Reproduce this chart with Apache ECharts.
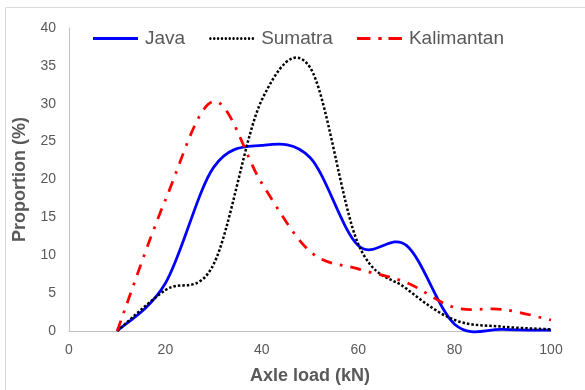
<!DOCTYPE html>
<html>
<head>
<meta charset="utf-8">
<script src="https://cdn.jsdelivr.net/npm/echarts@6/dist/echarts.min.js"></script>
<style>
  html, body { margin: 0; padding: 0; background: #fff; }
  #chart { width: 585px; height: 390px; }
</style>
</head>
<body>
<div id="chart"></div>
<script>
// Axle load classes (kN) and the share of axles in each class (%)
const axleLoad = [10, 20, 30, 40, 50, 60, 70, 80, 90, 100];
const java = [0, 6.3, 21.6, 24.5, 22.9, 11.3, 11.3, 0.9, 0.2, 0.1];
const sumatra = [0, 5.4, 8.8, 30.5, 34.8, 11.5, 5.6, 1.45, 0.57, 0.22];
const kalimantan = [0, 17.3, 30.3, 19.5, 10.5, 8.2, 6.4, 3.1, 2.85, 1.45];
const xTicks = [0, 20, 40, 60, 80, 100];
const yTicks = [0, 5, 10, 15, 20, 25, 30, 35, 40];

const FONT = '"Liberation Sans", Arial, sans-serif';
const GREY = '#595959';

const pairs = vals => axleLoad.map((x, i) => [x, vals[i]]);

// Smoothed curve through every point of a series: cubic Bezier segments
// whose control points follow the neighbouring points (Catmull-Rom style).
function smoothCurve(lineStyle) {
  return function (params, api) {
    if (params.dataIndexInside !== 0) return null;
    const n = params.dataInsideLength;
    const p = [];
    for (let i = 0; i < n; i++) {
      p.push(api.coord([api.value(0, i), api.value(1, i)]));
    }
    const at = i => p[Math.max(0, Math.min(n - 1, i))];
    let d = 'M' + p[0][0] + ',' + p[0][1];
    for (let i = 0; i < n - 1; i++) {
      const a = at(i - 1), b = at(i), c = at(i + 1), e = at(i + 2);
      const c1x = b[0] + (c[0] - a[0]) / 6, c1y = b[1] + (c[1] - a[1]) / 6;
      const c2x = c[0] - (e[0] - b[0]) / 6, c2y = c[1] - (e[1] - b[1]) / 6;
      d += 'C' + c1x + ',' + c1y + ' ' + c2x + ',' + c2y + ' ' + c[0] + ',' + c[1];
    }
    return {
      type: 'path',
      shape: { pathData: d },
      style: Object.assign({ fill: null }, lineStyle),
      silent: true
    };
  };
}

// Legend keys drawn as short strokes in each series' line pattern
function dots(count, step, r) {
  let s = 'path://';
  for (let i = 0; i < count; i++) {
    const x = i * step;
    s += 'M' + x + ',' + r + 'a' + r + ',' + r + ' 0 1,0 ' + 2 * r + ',0a' + r + ',' + r + ' 0 1,0 ' + -2 * r + ',0';
  }
  return s;
}
const iconSolid = 'path://M0,0H45V3H0Z';
const iconDotted = dots(12, 3.7, 1.2);
const iconDashDot = 'path://M0,0h12v3h-12zM19,0h3v3h-3zM28,0h12v3h-12z';

const chart = echarts.init(document.getElementById('chart'), null, { renderer: 'canvas' });
chart.setOption({
  backgroundColor: '#fff',
  animation: false,
  graphic: [{
    type: 'rect',
    shape: { x: 5.5, y: 7.5, width: 620, height: 420 },
    style: { fill: 'none', stroke: '#d9d9d9', lineWidth: 1 },
    silent: true
  }],
  legend: {
    left: 88,
    top: 24,
    itemWidth: 45,
    itemHeight: 3,
    itemGap: 24,
    symbolKeepAspect: false,
    textStyle: { fontFamily: FONT, fontSize: 19, color: GREY, padding: [0, 0, 0, 2] },
    data: [
      { name: 'Java', icon: iconSolid, itemStyle: { color: '#0000ff' } },
      { name: 'Sumatra', icon: iconDotted, itemStyle: { color: '#000000' } },
      { name: 'Kalimantan', icon: iconDashDot, itemStyle: { color: '#ff0000' } }
    ]
  },
  grid: { left: 69, right: 34, top: 28, bottom: 59, containLabel: false },
  xAxis: {
    type: 'value',
    min: xTicks[0],
    max: xTicks[xTicks.length - 1],
    interval: xTicks[1] - xTicks[0],
    name: 'Axle load (kN)',
    nameLocation: 'middle',
    nameGap: 36,
    nameTextStyle: { fontFamily: FONT, fontSize: 18, fontWeight: 'bold', color: GREY },
    axisLine: { show: true, lineStyle: { color: '#bfbfbf', width: 1 } },
    axisTick: { show: false },
    splitLine: { show: false },
    axisLabel: { fontFamily: FONT, fontSize: 14, color: GREY, margin: 12 }
  },
  yAxis: {
    type: 'value',
    min: yTicks[0],
    max: yTicks[yTicks.length - 1],
    interval: yTicks[1] - yTicks[0],
    name: 'Proportion (%)',
    nameLocation: 'middle',
    nameGap: 28,
    nameTextStyle: { fontFamily: FONT, fontSize: 18, fontWeight: 'bold', color: GREY },
    axisLine: { show: true, lineStyle: { color: '#bfbfbf', width: 1 } },
    axisTick: { show: false },
    splitLine: { show: false },
    axisLabel: { fontFamily: FONT, fontSize: 14, color: GREY, margin: 13 }
  },
  series: [
    {
      name: 'Java', type: 'custom', coordinateSystem: 'cartesian2d',
      data: pairs(java), encode: { x: 0, y: 1 },
      itemStyle: { color: '#0000ff' },
      renderItem: smoothCurve({ stroke: '#0000ff', lineWidth: 2.75 })
    },
    {
      name: 'Sumatra', type: 'custom', coordinateSystem: 'cartesian2d',
      data: pairs(sumatra), encode: { x: 0, y: 1 },
      itemStyle: { color: '#000000' },
      renderItem: smoothCurve({ stroke: '#000000', lineWidth: 2.5, lineDash: [2.5, 2] })
    },
    {
      name: 'Kalimantan', type: 'custom', coordinateSystem: 'cartesian2d',
      data: pairs(kalimantan), encode: { x: 0, y: 1 },
      itemStyle: { color: '#ff0000' },
      renderItem: smoothCurve({ stroke: '#ff0000', lineWidth: 2.75, lineDash: [11, 8, 2.75, 8] })
    }
  ]
});
</script>
</body>
</html>
